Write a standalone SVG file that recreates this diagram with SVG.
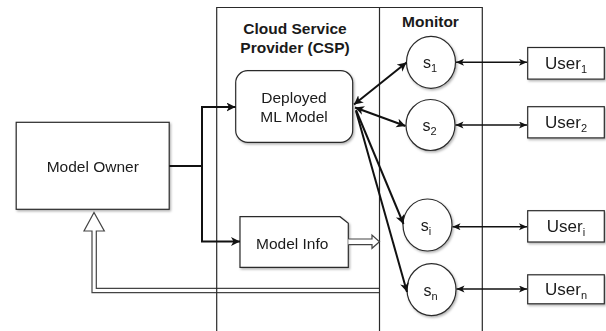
<svg xmlns="http://www.w3.org/2000/svg" width="606" height="331" viewBox="0 0 606 331">
<style>
text{font-family:"Liberation Sans",Arial,Helvetica,sans-serif;fill:#1a1a1a}
.t{font-size:15.5px;text-anchor:middle}
.b{font-size:15.5px;font-weight:bold;text-anchor:middle}
.s{font-size:16px;text-anchor:middle}
.u{font-size:17px;text-anchor:middle}
.box{fill:#fff;stroke:#2a2a2a;stroke-width:1.2}
.frame{fill:none;stroke:#2a2a2a;stroke-width:1.2}
.hollow{fill:#fff;stroke:#444;stroke-width:1.2;stroke-linejoin:miter}
.thick{fill:none;stroke:#111;stroke-width:2}
.thin{fill:none;stroke:#111;stroke-width:1.5}
</style>
<defs>
<filter id="sh" x="-10%" y="-10%" width="130%" height="130%">
<feDropShadow dx="1.2" dy="1.5" stdDeviation="0.8" flood-color="#000" flood-opacity="0.3"/>
</filter>
<marker id="arr" markerUnits="userSpaceOnUse" markerWidth="10" markerHeight="10" refX="9" refY="4.5" orient="auto-start-reverse" viewBox="0 0 10 10">
<path d="M0,0 L9,4.5 L0,9 L2.5,4.5 z" fill="#111"/>
</marker>
<marker id="sm" markerUnits="userSpaceOnUse" markerWidth="9" markerHeight="8" refX="8" refY="3.5" orient="auto-start-reverse" viewBox="0 0 9 8">
<path d="M0,0 L8,3.5 L0,7 L2,3.5 z" fill="#111"/>
</marker>
</defs>

<g id="feedback-arrow">
<path class="hollow" d="M379.5,292.7 L92,292.7 L92,231 L84,231 L94,212.5 L104.3,231 L96.3,231 L96.3,288.3 L379.5,288.3"/>
</g>

<g id="csp-frame">
<path class="frame" d="M216.7,331 L216.7,7.5 L482.3,7.5 L482.3,331 M379.5,7.5 L379.5,331"/>
<text class="b" x="295" y="34">Cloud Service</text>
<text class="b" x="295" y="53">Provider (CSP)</text>
<text class="b" x="430.5" y="27.3">Monitor</text>
</g>

<g id="model-owner" filter="url(#sh)">
<rect class="box" x="16.2" y="122.3" width="153" height="87"/>
<text class="t" x="92.8" y="171.5">Model Owner</text>
</g>

<g id="deployed-ml-model" filter="url(#sh)">
<rect class="box" x="235.7" y="70.7" width="117" height="71.6" rx="12" ry="12"/>
<text class="t" x="294" y="102.7">Deployed</text>
<text class="t" x="294" y="121.7">ML Model</text>
</g>

<g id="model-info" filter="url(#sh)">
<path class="box" d="M240,216.7 L340,216.7 L348.3,223.3 L348.3,267.3 L240,267.3 Z"/>
<text class="t" x="292.2" y="249">Model Info</text>
</g>

<g id="model-info-arrow">
<path class="hollow" d="M348.3,239 L372,239 L372,235 L379.5,241.7 L372,248.3 L372,244.7 L348.3,244.7"/>
</g>

<g id="s1" filter="url(#sh)">
<ellipse class="box" cx="431" cy="62.3" rx="24.5" ry="26"/>
<text class="s" x="430" y="68.3">s<tspan font-size="11" dy="4">1</tspan></text>
</g>
<g id="s2" filter="url(#sh)">
<ellipse class="box" cx="430.5" cy="125" rx="24.5" ry="25.5"/>
<text class="s" x="429.5" y="131">s<tspan font-size="11" dy="4">2</tspan></text>
</g>
<g id="si" filter="url(#sh)">
<ellipse class="box" cx="427.5" cy="225" rx="24.5" ry="26"/>
<text class="s" x="426" y="231">s<tspan font-size="11" dy="4">i</tspan></text>
</g>
<g id="sn" filter="url(#sh)">
<ellipse class="box" cx="431.5" cy="289.6" rx="24.5" ry="26"/>
<text class="s" x="430.5" y="295.6">s<tspan font-size="11" dy="4">n</tspan></text>
</g>

<g id="user1" filter="url(#sh)">
<rect class="box" x="527.7" y="47.5" width="76.6" height="31.6"/>
<text class="u" x="566" y="69">User<tspan font-size="11" dy="4">1</tspan></text>
</g>
<g id="user2" filter="url(#sh)">
<rect class="box" x="527.7" y="106.7" width="76.6" height="31.2"/>
<text class="u" x="566" y="128.3">User<tspan font-size="11" dy="4">2</tspan></text>
</g>
<g id="useri" filter="url(#sh)">
<rect class="box" x="527.7" y="210.7" width="76.6" height="31.3"/>
<text class="u" x="566" y="232.3">User<tspan font-size="11" dy="4">i</tspan></text>
</g>
<g id="usern" filter="url(#sh)">
<rect class="box" x="527.7" y="274.8" width="76.6" height="29"/>
<text class="u" x="566" y="295">User<tspan font-size="11" dy="4">n</tspan></text>
</g>

<g id="connectors">
<path class="thick" d="M169.3,166 H202"/>
<path class="thick" d="M202,167 V107 H235.5" marker-end="url(#arr)"/>
<path class="thick" d="M202,165 V241.5 H240" marker-end="url(#arr)"/>
<path class="thick" d="M354,104.5 L406.5,62.5" marker-start="url(#arr)" marker-end="url(#arr)"/>
<path class="thick" d="M355,107.5 L405.5,126" marker-start="url(#arr)" marker-end="url(#arr)"/>
<path class="thick" d="M356,110 L403.5,224" marker-end="url(#arr)"/>
<path class="thick" d="M356,111 L407,292" marker-end="url(#arr)"/>
<path class="thin" d="M456,62.3 H527" marker-start="url(#sm)" marker-end="url(#sm)"/>
<path class="thin" d="M455.5,125 H527" marker-start="url(#sm)" marker-end="url(#sm)"/>
<path class="thin" d="M452.5,226.7 H527" marker-start="url(#sm)" marker-end="url(#sm)"/>
<path class="thin" d="M456.5,289 H527" marker-start="url(#sm)" marker-end="url(#sm)"/>
</g>
</svg>
